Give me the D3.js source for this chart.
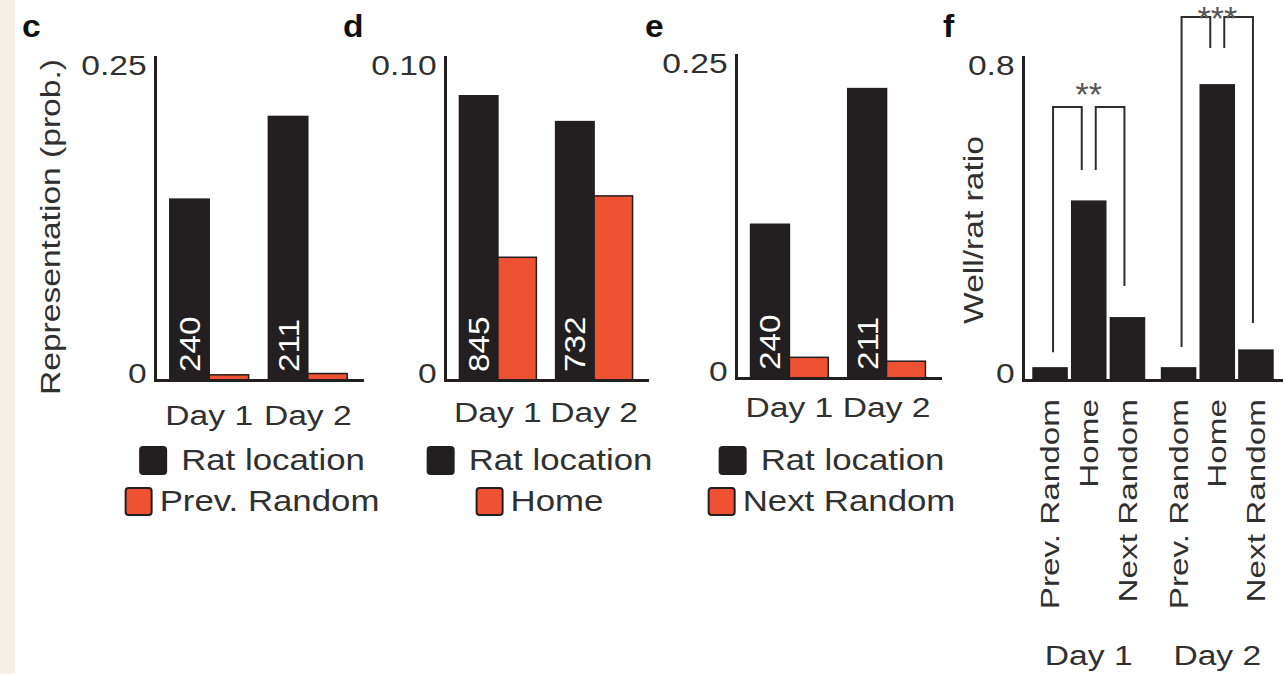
<!DOCTYPE html>
<html>
<head>
<meta charset="utf-8">
<script src="https://cdn.jsdelivr.net/npm/d3@7"></script>
<style>
  body { margin: 0; background: #fff; }
  svg { display: block; font-family: "Liberation Sans", Arial, Helvetica, sans-serif; }
</style>
</head>
<body>
<div id="chart"></div>
<script>
const F_WIDTH = 1283;
const F_HEIGHT = 674;

// ---- data ----
const DAYS = ["Day 1", "Day 2"];
const SERIES = ["rat", "well"];

// panel c
const C_RAT = [0.140, 0.204];
const C_PREV = [0.004, 0.005];
const C_COUNTS = ["240", "211"];
const C_TICKS = [0, 0.25];
const C_TICK_LABELS = ["0", "0.25"];

// panel d
const D_RAT = [0.088, 0.080];
const D_HOME = [0.038, 0.057];
const D_COUNTS = ["845", "732"];
const D_TICKS = [0, 0.10];
const D_TICK_LABELS = ["0", "0.10"];

// panel e
const E_RAT = [0.119, 0.224];
const E_NEXT = [0.016, 0.013];
const E_COUNTS = ["240", "211"];
const E_TICKS = [0, 0.25];
const E_TICK_LABELS = ["0", "0.25"];

// panel f
const F_WELLS = ["Prev. Random", "Home", "Next Random"];
const F_DAY1 = [0.030, 0.443, 0.154];
const F_DAY2 = [0.030, 0.731, 0.074];
const F_TICKS = [0, 0.8];
const F_TICK_LABELS = ["0", "0.8"];
const F_BRACKETS = [
  {day: "Day 1", a: "Prev. Random", b: "Home", top: 0.676, endA: 0.069, endB: 0.520},
  {day: "Day 1", a: "Home", b: "Next Random", top: 0.676, endA: 0.520, endB: 0.233},
  {day: "Day 2", a: "Prev. Random", b: "Home", top: 0.899, endA: 0.082, endB: 0.822},
  {day: "Day 2", a: "Home", b: "Next Random", top: 0.899, endA: 0.822, endB: 0.141}
];
const F_STARS = [{day: "Day 1", text: "**", v: 0.726}, {day: "Day 2", text: "***", v: 0.915}];

// ---- styles ----
const INK = "#231f20";
const RED = "#ef5133";
const TEXT = "#303030";
const STRETCH = 1.2;   // the figure's type runs wide

const COLORS = d3.scaleOrdinal().domain(SERIES).range([INK, RED]);

const SVG = d3.select("#chart")
  .append("svg")
    .attr("width", F_WIDTH)
    .attr("height", F_HEIGHT);

SVG.append("rect").attr("width", F_WIDTH).attr("height", F_HEIGHT).attr("fill", "#fff");
// beige page edge on the left
SVG.append("rect").attr("width", 15).attr("height", F_HEIGHT).attr("fill", "#f5f0e7");

// text helper, stretched along reading direction
function label(g, x, y, str, opts) {
  const o = Object.assign({size: 28, anchor: "middle", rotate: 0, fill: TEXT,
                           weight: "normal", dy: "0", sx: STRETCH}, opts);
  return g.append("text")
    .attr("transform", `translate(${x},${y}) rotate(${o.rotate}) scale(${o.sx},1)`)
    .attr("text-anchor", o.anchor)
    .attr("dy", o.dy)
    .style("font-size", o.size + "px")
    .style("font-weight", o.weight)
    .style("fill", o.fill)
    .text(str);
}

function styleAxis(ax) {
  ax.attr("font-size", null).attr("font-family", null);
  ax.select(".domain")
    .attr("stroke", INK)
    .attr("stroke-width", 3)
    .attr("stroke-linecap", "square");
  ax.selectAll(".tick text")
    .style("font-size", "28px")
    .attr("fill", TEXT)
    .attr("transform", `scale(${STRETCH},1)`);
}

function yAxis(g, y, x, ticks, tickLabels) {
  const ax = g.append("g")
    .attr("transform", `translate(${x},0)`)
    .call(d3.axisLeft(y).tickValues(ticks).tickSize(0).tickSizeOuter(0).tickPadding(7)
      .tickFormat((v, i) => tickLabels[i]));
  styleAxis(ax);
  ax.selectAll(".tick text").attr("y", v => v === 0 ? -6 : 9);
}

function legend(g, cx, name) {
  const rows = [{s: "rat", text: "Rat location", gap: 15, y: 460},
                {s: "well", text: name, gap: 8, y: 501}];
  rows.forEach(r => {
    const t = label(g, 0, r.y + 10, r.text, {anchor: "start", size: 29, fill: TEXT});
    const w = t.node().getComputedTextLength() * STRETCH;
    const x0 = cx - (26 + r.gap + w) / 2;
    t.attr("transform", `translate(${x0 + 26 + r.gap},${r.y + 10}) scale(${STRETCH},1)`);
    g.append("rect")
      .attr("x", x0).attr("y", r.y - 13)
      .attr("width", 26).attr("height", 27)
      .attr("rx", 3)
      .attr("fill", COLORS(r.s))
      .attr("stroke", INK)
      .attr("stroke-width", 2);
  });
}

// ---- panels c, d, e ----
const PANELS = [
  {letter: "c", lx: 22, axisX: 155, axisEnd: 362, base: 380, top: 57,
   rat: C_RAT, other: C_PREV, counts: C_COUNTS, ticks: C_TICKS, tickLabels: C_TICK_LABELS,
   name: "Prev. Random", dayPad: 25},
  {letter: "d", lx: 343, axisX: 445, axisEnd: 647, base: 380, top: 57,
   rat: D_RAT, other: D_HOME, counts: D_COUNTS, ticks: D_TICKS, tickLabels: D_TICK_LABELS,
   name: "Home", dayPad: 22},
  {letter: "e", lx: 645, axisX: 736, axisEnd: 940, base: 378, top: 55,
   rat: E_RAT, other: E_NEXT, counts: E_COUNTS, ticks: E_TICKS, tickLabels: E_TICK_LABELS,
   name: "Next Random", dayPad: 19}
];

function barPanel(p) {
  const g = SVG.append("g");

  const X0 = d3.scaleBand().domain(DAYS).range([p.axisX, p.axisEnd])
    .paddingInner(0.2).paddingOuter(0.15);
  const X1 = d3.scaleBand().domain(SERIES).range([0, X0.bandwidth()]);
  const Y = d3.scaleLinear().domain([0, p.ticks[1]]).range([p.base, p.top]);

  const rows = DAYS.map((day, i) => ({day: day, rat: p.rat[i], well: p.other[i], n: p.counts[i]}));

  const groups = g.selectAll(".day")
    .data(rows)
    .enter()
    .append("g")
      .attr("transform", d => `translate(${X0(d.day)},0)`);

  groups.selectAll("rect")
    .data(d => SERIES.map(s => ({s: s, v: d[s]})))
    .enter()
    .append("rect")
      .attr("x", d => X1(d.s))
      .attr("y", d => Y(d.v))
      .attr("width", X1.bandwidth())
      .attr("height", d => Y(0) - Y(d.v))
      .attr("fill", d => COLORS(d.s))
      .attr("stroke", INK)
      .attr("stroke-width", 1.5);

  // sample counts inside the black bars
  groups.each(function(d) {
    label(d3.select(this), X1("rat") + X1.bandwidth() / 2, Y(0) - 8, d.n,
          {rotate: -90, anchor: "start", dy: "0.36em", fill: "#fff", size: 29, sx: 1.15});
  });

  // x axis with day labels
  const xa = g.append("g")
    .attr("transform", `translate(0,${p.base})`)
    .call(d3.axisBottom(X0).tickSize(0).tickSizeOuter(0).tickPadding(p.dayPad));
  styleAxis(xa);

  yAxis(g, Y, p.axisX, p.ticks, p.tickLabels);

  legend(g, (p.axisX + p.axisEnd) / 2 - 6, p.name);

  label(SVG, p.lx, 37, p.letter, {anchor: "start", size: 32, weight: "bold", fill: "#111", sx: 1.05});
}

PANELS.forEach(barPanel);

label(SVG, 50, 227, "Representation (prob.)", {rotate: -90, dy: "0.35em", size: 28});

// ---- panel f ----
function panelF() {
  const g = SVG.append("g");
  const AXIS_X = 1023;
  const BASE = 380;

  const X0 = d3.scaleBand().domain(DAYS).range([AXIS_X, F_WIDTH])
    .paddingInner(0.133).paddingOuter(0.078);
  const X1 = d3.scaleBand().domain(F_WELLS).range([0, X0.bandwidth()]).paddingInner(0.12);
  const Y = d3.scaleLinear().domain([0, F_TICKS[1]]).range([BASE, 57]);

  const rows = [];
  DAYS.forEach((day, i) => {
    const vals = i === 0 ? F_DAY1 : F_DAY2;
    F_WELLS.forEach((w, j) => rows.push({day: day, well: w, v: vals[j]}));
  });
  const cx = (day, w) => X0(day) + X1(w) + X1.bandwidth() / 2;

  g.selectAll(".fbar")
    .data(rows)
    .enter()
    .append("rect")
      .attr("x", d => X0(d.day) + X1(d.well))
      .attr("y", d => Y(d.v))
      .attr("width", X1.bandwidth())
      .attr("height", d => Y(0) - Y(d.v))
      .attr("fill", INK)
      .attr("stroke", INK)
      .attr("stroke-width", 1.5);

  // significance brackets
  const inset = w => w === "Home" ? 7 : 3;
  g.selectAll(".bracket")
    .data(F_BRACKETS)
    .enter()
    .append("path")
      .attr("d", d => {
        const xa = cx(d.day, d.a) + inset(d.a);
        const xb = cx(d.day, d.b) - inset(d.b);
        return `M${xa},${Y(d.endA)}V${Y(d.top)}H${xb}V${Y(d.endB)}`;
      })
      .attr("fill", "none")
      .attr("stroke", "#2e2e2e")
      .attr("stroke-width", 2);

  F_STARS.forEach(s => {
    label(g, cx(s.day, "Home"), Y(s.v), s.text, {size: 34, dy: "0.57em", fill: "#555", sx: 1});
  });

  // x axis, day labels below the well names
  const xa = g.append("g")
    .attr("transform", `translate(0,${BASE})`)
    .call(d3.axisBottom(X0).tickSize(0).tickSizeOuter(0).tickPadding(265));
  styleAxis(xa);

  rows.forEach(d => {
    label(g, cx(d.day, d.well), 399, d.well,
          {rotate: -90, anchor: "end", dy: "0.35em", size: 26, sx: 1.28});
  });

  yAxis(g, Y, AXIS_X, F_TICKS, F_TICK_LABELS);

  label(SVG, 973, 230, "Well/rat ratio", {rotate: -90, dy: "0.35em", size: 28});
  label(SVG, 943, 37, "f", {anchor: "start", size: 32, weight: "bold", fill: "#111", sx: 1.05});
}

panelF();
</script>
</body>
</html>
